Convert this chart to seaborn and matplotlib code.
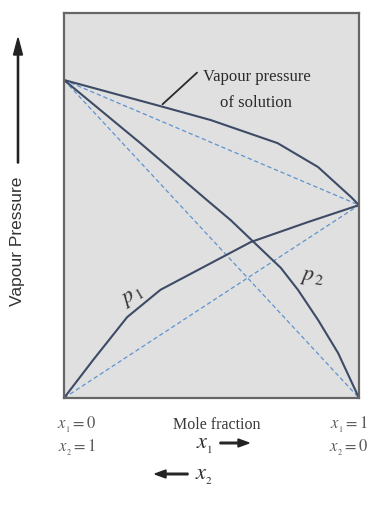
import matplotlib
matplotlib.use("Agg")
import matplotlib.pyplot as plt
import seaborn as sns
import pandas as pd

# ---- data ----
x_total = [0.0, 0.327, 0.497, 0.724, 0.861, 0.973, 1.0]
y_total = [0.826, 0.758, 0.722, 0.662, 0.600, 0.522, 0.501]

x_p2 = [0.0, 0.259, 0.480, 0.565, 0.639, 0.735, 0.793, 0.861, 0.929, 1.0]
y_p2 = [0.826, 0.662, 0.517, 0.462, 0.408, 0.338, 0.281, 0.203, 0.117, 0.0]

x_p1 = [0.0, 0.099, 0.214, 0.327, 0.633, 0.827, 1.0]
y_p1 = [0.0, 0.099, 0.210, 0.281, 0.405, 0.457, 0.501]

# ideal (Raoult) straight lines
x_ideal = [0.0, 1.0]
y_ideal_p2 = [0.826, 0.0]
y_ideal_p1 = [0.0, 0.501]
y_ideal_tot = [0.826, 0.501]

sns.set_style("white")
plt.rcParams['font.family'] = ['Liberation Serif', 'DejaVu Serif']
plt.rcParams['mathtext.fontset'] = 'stix'

W, H = 371, 508
fig = plt.figure(figsize=(W / 100, H / 100), dpi=100)
ax = fig.add_axes([64 / W, (H - 398) / H, 295 / W, 385 / H])
ax.set_facecolor('#e0e0e0')

solid = '#3d4b66'
dash = '#5e93d0'

def curve(xs, ys, name):
    return pd.DataFrame({'x': xs, 'y': ys, 'series': name})

df_solid = pd.concat([curve(x_total, y_total, 'total'),
                      curve(x_p2, y_p2, 'p2'),
                      curve(x_p1, y_p1, 'p1')])
df_dash = pd.concat([curve(x_ideal, y_ideal_p2, 'i2'),
                     curve(x_ideal, y_ideal_p1, 'i1'),
                     curve(x_ideal, y_ideal_tot, 'it')])

sns.lineplot(data=df_dash, x='x', y='y', units='series', estimator=None,
             sort=False, color=dash, lw=0.9, ax=ax)
for l in ax.lines:
    l.set_linestyle((0, (3.5, 2.2)))
sns.lineplot(data=df_solid, x='x', y='y', units='series', estimator=None,
             sort=False, color=solid, lw=1.5, ax=ax)

ax.set_xlim(0, 1)
ax.set_ylim(0, 1)
ax.set_xticks([])
ax.set_yticks([])
ax.set_xlabel('')
ax.set_ylabel('')
for s in ax.spines.values():
    s.set_color('#666666')
    s.set_linewidth(1.6)

# annotation: vapour pressure of solution
ax.annotate('', xy=(0.327, 0.758), xytext=(0.458, 0.85),
            arrowprops=dict(arrowstyle='-', color='#2a2a2a', lw=1.3))
fig.text(257 / W, (H - 77) / H, 'Vapour pressure', ha='center', va='center',
         fontsize=12, color='#2a2a2a')
fig.text(256 / W, (H - 103) / H, 'of solution', ha='center', va='center',
         fontsize=12, color='#2a2a2a')

# curve labels
ax.text(0.235, 0.262, r'$p_{\,1}$', ha='center', va='center', fontsize=16,
        rotation=30, color='#333333')
ax.text(0.843, 0.31, r'$p_{\,2}$', ha='center', va='center', fontsize=16,
        rotation=-8, color='#333333')

# y axis label + arrow
fig.text(18 / W, (H - 241) / H, 'Vapour Pressure', rotation=90, ha='center',
         va='center', fontsize=12.5, family=['Liberation Sans'], color='#333333')
fig.patches.append(matplotlib.patches.FancyArrow(
    18, H - 163, 0, 108, width=1.2, head_width=9, head_length=17,
    length_includes_head=False, color='#222222', transform=None, figure=fig))

# bottom labels
gray = '#5a5a5a'
fig.text(77 / W, (H - 425) / H, r'$x_{_1} = 0$', ha='center', va='center',
         fontsize=12, color=gray)
fig.text(77 / W, (H - 448) / H, r'$x_{_2} = 1$', ha='center', va='center',
         fontsize=12, color=gray)
fig.text(349 / W, (H - 425) / H, r'$x_{_1} = 1$', ha='center', va='center',
         fontsize=12, color=gray)
fig.text(349 / W, (H - 448) / H, r'$x_{_2} = 0$', ha='center', va='center',
         fontsize=12, color=gray)
fig.text(217 / W, (H - 425) / H, 'Mole fraction', ha='center', va='center',
         fontsize=11.5, color='#3a3a3a')
fig.text(205 / W, (H - 446) / H, r'$x_{_1}$', ha='center', va='center',
         fontsize=16, color='#2a2a2a')
fig.text(204 / W, (H - 477) / H, r'$x_{_2}$', ha='center', va='center',
         fontsize=16, color='#2a2a2a')
fig.patches.append(matplotlib.patches.FancyArrow(
    220, H - 443, 18, 0, width=1.6, head_width=8, head_length=11,
    color='#222222', transform=None, figure=fig))
fig.patches.append(matplotlib.patches.FancyArrow(
    188, H - 474, -22, 0, width=1.6, head_width=8, head_length=11,
    color='#222222', transform=None, figure=fig))

fig.savefig('out.png', dpi=100, facecolor='white')
